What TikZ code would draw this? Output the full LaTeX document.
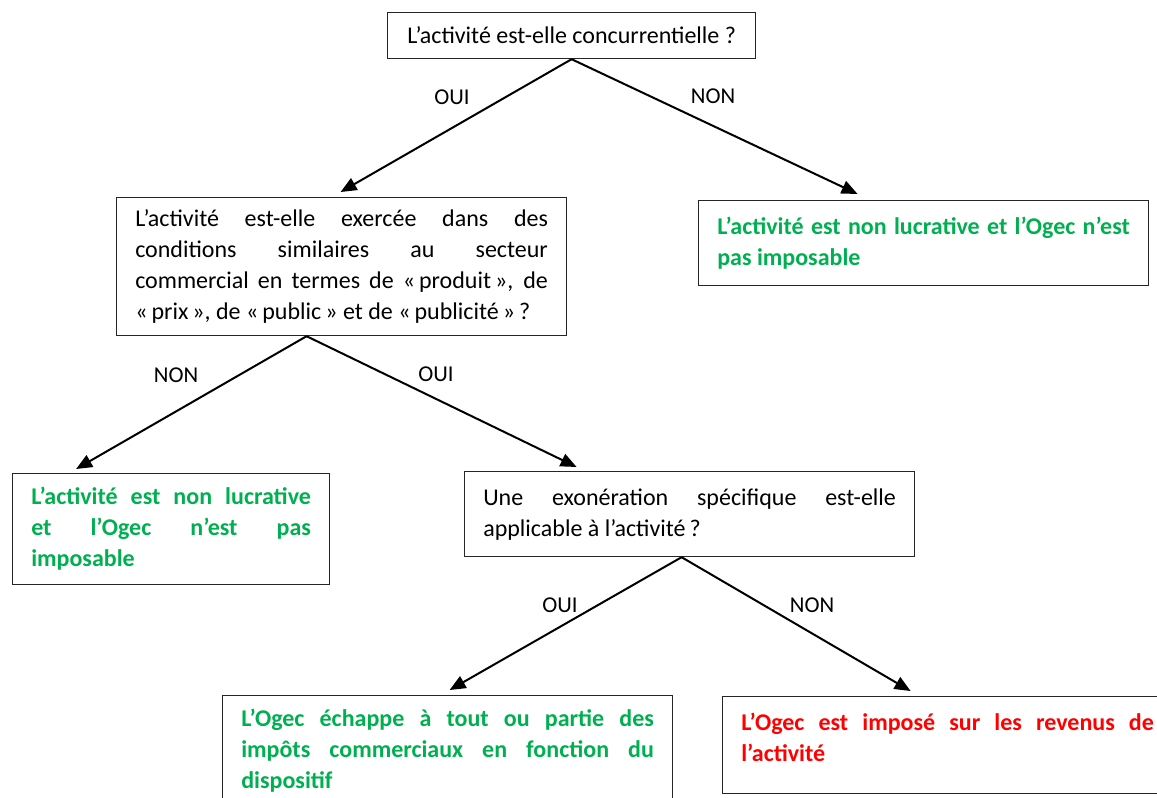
\documentclass[tikz,border=0pt]{standalone}
\usepackage{fontspec}
\setmainfont{Carlito}
\usetikzlibrary{arrows.meta,calc}
\definecolor{okgreen}{RGB}{0,176,80}
\definecolor{taxred}{RGB}{255,0,0}

\begin{document}
\begin{tikzpicture}[
    x=0.75pt, y=-0.75pt,
    % Style for the boxes holding a question
    question/.style={draw=black!85, line width=0.9pt, anchor=north west,
        inner xsep=14pt, inner ysep=0pt, text width=309.5pt, align=justify,
        font=\fontsize{18}{23.25}\selectfont},
    % Style for the boxes holding an outcome
    verdict/.style={question, font=\fontsize{18}{23.25}\selectfont\bfseries},
    % Style for the OUI / NON words
    choice/.style={font=\fontsize{17}{20}\selectfont},
    % Style for the arrows
    branch/.style={line width=1.5pt, -{Triangle[length=12pt, width=10pt]}}
]

    \useasboundingbox (0,0) rectangle (1157,797);
    \clip (0,0) rectangle (1157,797);

    % --- 1. Boxes ---
    \node[question, text width=, align=center, minimum width=276pt, minimum height=34.5pt] (q1) at (387,12)
        {L’activité est-elle concurrentielle ?};

    \node[question, minimum height=103.5pt] (q2) at (116,197)
        {L’activité est-elle exercée dans des\linebreak
         conditions similaires au secteur\linebreak
         commercial en termes de «\,produit\,», de\linebreak
         «\,prix\,», de «\,public\,» et de «\,publicité\,»\,?};

    \node[verdict, text=okgreen, minimum height=63.75pt] (a1) at (698,200)
        {L’activité est non lucrative et l’Ogec n’est\linebreak pas imposable};

    \node[verdict, text=okgreen, text width=209.75pt, minimum height=83.25pt] (a2) at (12,473)
        {L’activité est non lucrative\linebreak et l’Ogec n’est pas\linebreak imposable};

    \node[question, minimum height=63.75pt] (q3) at (464,471)
        {Une exonération spécifique est-elle\linebreak applicable à l’activité\,?};

    \node[verdict, text=okgreen, minimum height=82.5pt] (a3) at (222,695)
        {L’Ogec échappe à tout ou partie des\linebreak impôts commerciaux en fonction du\linebreak dispositif};

    \node[verdict, text=taxred, text depth=35.5pt, minimum height=72.75pt] (a4) at (722,696)
        {L’Ogec est imposé sur les revenus de\linebreak l’activité};

    % --- 2. Arrows ---
    \draw[branch] (q1.south) -- ($(q2.north)+(-1,-5)$);
    \draw[branch] (q1.south) -- ($(a1.north)+(-66,-6)$);

    \draw[branch] ($(q2.south)+(-35,0)$) -- ($(a2.north)+(-95,-4)$);
    \draw[branch] ($(q2.south)+(-35,0)$) -- ($(q3.north)+(-113,-4)$);

    \draw[branch] ($(q3.south)+(-8,0)$) -- ($(a3.north)+(2,-5)$);
    \draw[branch] ($(q3.south)+(-8,0)$) -- ($(a4.north)+(-37,-5)$);

    % --- 3. OUI / NON ---
    \node[choice] (y1) at (452,97) {OUI};
    \node[choice] (n1) at (713,96) {NON};
    \node[choice] (n2) at (176,375) {NON};
    \node[choice] (y2) at (436,374) {OUI};
    \node[choice] (y3) at (560,605) {OUI};
    \node[choice] (n3) at (812,605) {NON};

\end{tikzpicture}
\end{document}
